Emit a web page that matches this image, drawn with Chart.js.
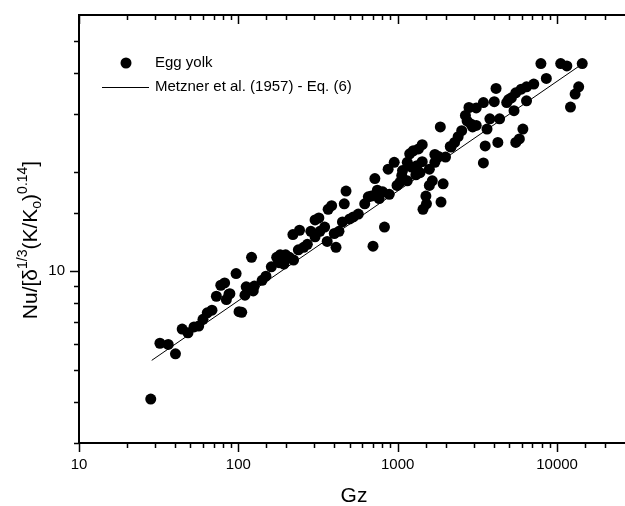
<!DOCTYPE html>
<html>
<head>
<meta charset="utf-8">
<script src="https://cdn.jsdelivr.net/npm/chart.js@4.4.1/dist/chart.umd.min.js"></script>
<style>
  body { margin: 0; background: #fff; }
  #clip { width: 625px; height: 506px; overflow: hidden; }
  #wrap { width: 630px; height: 506px; position: relative; }
</style>
</head>
<body>
<div id="clip"><div id="wrap"><canvas id="nu-chart"></canvas></div></div>
<script>
// Egg yolk data (Gz, Nu/[...])
var eggGz = [28.2, 32.2, 36.3, 40.3, 44.4, 48.3, 52.7, 56.4, 60, 63.8, 68.3, 72.8, 84.1, 88.5, 101, 105, 110, 124,
  77.6, 82, 87.3, 96.8, 112, 121, 126, 141, 149, 161, 174, 183, 198, 180, 193, 209, 222, 238, 220, 242, 257, 271,
  285, 303, 303, 320, 325, 348, 366, 385, 361, 410, 400, 428, 450, 462, 474, 500, 527, 566, 621, 654, 683, 700,
  719, 745, 805, 765, 826, 885, 871, 951, 990, 1032, 1072, 1148, 1148, 1189, 1253, 1221, 1319, 1425, 1300, 1441,
  1515, 1503, 1580, 1648, 1580, 1711, 1803, 1870, 1928, 1996, 3450, 1851, 2137, 2275, 2395, 2521, 2726, 2661,
  2800, 3110, 2875, 3110, 3450, 4036, 3540, 4250, 3635, 3788, 4142, 4359, 4830, 4963, 5171, 5507, 5957, 6433,
  7144, 5370, 5507, 5800, 6104, 6433, 7918, 8564, 10540, 11520, 12140, 12980, 13670, 14390, 1425, 1350, 1711,
  2163, 2950, 1060, 1380];
var eggNu = [4.08, 6.03, 5.98, 5.6, 6.66, 6.49, 6.76, 6.8, 7.13, 7.46, 7.6, 8.38, 8.19, 8.53, 7.52, 7.49, 8.44, 8.7,
  9.05, 9.2, 8.5, 9.82, 8.95, 11.0, 9.0, 9.37, 9.64, 10.3, 11.0, 11.2, 11.2, 10.6, 10.5, 11.0, 10.8, 11.6, 12.9,
  13.3, 11.8, 12.05, 13.2, 12.7, 14.3, 14.5, 13.2, 13.6, 15.4, 15.8, 12.3, 11.8, 13.0, 13.2, 14.1, 16.0, 17.5,
  14.4, 14.6, 14.9, 16.0, 16.8, 16.9, 11.9, 19.1, 17.6, 17.4, 16.6, 13.6, 17.1, 20.4, 21.4, 18.2, 18.6, 20.2,
  21.4, 18.8, 22.7, 23.2, 20.7, 20.9, 21.5, 19.6, 15.4, 16.0, 16.9, 18.2, 18.8, 20.4, 21.4, 22.3, 16.2, 18.4,
  22.2, 21.3, 27.4, 23.9, 24.6, 25.6, 26.7, 28.6, 29.7, 31.4, 31.3, 28.0, 27.7, 32.5, 32.7, 24.0, 24.6, 27.0,
  29.0, 35.9, 29.0, 32.5, 33.2, 33.6, 34.8, 35.7, 36.3, 37.0, 30.7, 24.6, 25.2, 27.0, 32.9, 42.7, 38.5, 42.7,
  42.0, 31.5, 34.5, 36.3, 42.7, 24.2, 23.5, 22.6, 23.8, 27.4, 19.5, 19.9];

// Metzner et al. (1957) - Eq. (6), end points of the drawn line
var lineGz = [28.6, 13700];
var lineNu = [5.35, 41.9];

var xTickLabels = ['10', '100', '1000', '10000'];
var yTickLabels = ['10'];

function isPow10(v) {
  var l = Math.log10(v);
  return Math.abs(l - Math.round(l)) < 1e-9;
}

var eggPoints = eggGz.map(function (g, i) { return { x: g, y: eggNu[i] }; });
var linePoints = lineGz.map(function (g, i) { return { x: g, y: lineNu[i] }; });

var decor = {
  id: 'decor',
  afterDraw: function (chart) {
    var ctx = chart.ctx, a = chart.chartArea;
    var xs = chart.scales.x, ys = chart.scales.y;
    ctx.save();
    ctx.strokeStyle = '#000';
    ctx.fillStyle = '#000';
    // top frame line
    ctx.lineWidth = 2;
    ctx.beginPath(); ctx.moveTo(a.left - 1, a.top); ctx.lineTo(a.right + 5, a.top); ctx.stroke();

    // tick marks
    ctx.lineWidth = 1.5;
    xs.ticks.forEach(function (t) {
      var px = Math.round(xs.getPixelForValue(t.value)) + 0.5;
      if (px > a.right) return;
      var len = isPow10(t.value) ? 9 : 5;
      ctx.beginPath();
      ctx.moveTo(px, a.bottom); ctx.lineTo(px, a.bottom + len);
      ctx.moveTo(px, a.top); ctx.lineTo(px, a.top + len);
      ctx.stroke();
    });
    ys.ticks.forEach(function (t) {
      if (t.value >= ys.max) return;
      var py = Math.round(ys.getPixelForValue(t.value)) + 0.5;
      var len = isPow10(t.value) ? 9 : 5;
      ctx.beginPath();
      ctx.moveTo(a.left - len, py); ctx.lineTo(a.left, py);
      ctx.stroke();
    });

    // legend
    ctx.font = '15px "Liberation Sans", Arial, sans-serif';
    ctx.textBaseline = 'middle';
    ctx.textAlign = 'left';
    ctx.beginPath(); ctx.arc(126, 63, 5.5, 0, Math.PI * 2); ctx.fill();
    ctx.fillText(chart.data.datasets[0].label, 155, 63);
    ctx.lineWidth = 1;
    ctx.beginPath(); ctx.moveTo(102, 87.5); ctx.lineTo(149, 87.5); ctx.stroke();
    ctx.fillText(chart.data.datasets[1].label, 155, 87);

    // x axis title
    ctx.font = '21px "Liberation Sans", Arial, sans-serif';
    ctx.textAlign = 'center';
    ctx.fillText('Gz', 354, 496);

    // y axis title with super/subscripts
    var parts = [
      ['Nu/[\u03b4', 0], ['1/3', 1], ['(K/K', 0], ['o', -1], [')', 0], ['0.14', 1], [']', 0]
    ];
    var mainF = '21px "Liberation Sans", Arial, sans-serif';
    var smallF = '14px "Liberation Sans", Arial, sans-serif';
    var total = 0;
    parts.forEach(function (p) {
      ctx.font = p[1] === 0 ? mainF : smallF;
      p.push(ctx.measureText(p[0]).width);
      total += p[2];
    });
    ctx.translate(37, 240);
    ctx.rotate(-Math.PI / 2);
    ctx.textAlign = 'left';
    ctx.textBaseline = 'alphabetic';
    var cx = -total / 2;
    parts.forEach(function (p) {
      ctx.font = p[1] === 0 ? mainF : smallF;
      var dy = p[1] === 1 ? -10 : (p[1] === -1 ? 4 : 0);
      ctx.fillText(p[0], cx, dy);
      cx += p[2];
    });
    ctx.restore();
  }
};

var ctxChart = document.getElementById('nu-chart');
new Chart(ctxChart, {
  type: 'scatter',
  data: {
    datasets: [{
      label: 'Egg yolk',
      data: eggPoints,
      pointRadius: 5.5,
      pointBackgroundColor: '#000',
      pointBorderWidth: 0,
      showLine: false
    }, {
      label: 'Metzner et al. (1957) - Eq. (6)',
      data: linePoints,
      showLine: true,
      borderColor: '#000',
      borderWidth: 1,
      pointRadius: 0
    }]
  },
  options: {
    responsive: true,
    maintainAspectRatio: false,
    animation: false,
    events: [],
    layout: { padding: { top: 15, right: 0, left: 0, bottom: 0 } },
    plugins: {
      legend: { display: false },
      tooltip: { enabled: false }
    },
    scales: {
      x: {
        type: 'logarithmic',
        min: 10,
        max: 26500,
        grid: { display: false, drawTicks: false },
        border: { display: true, color: '#000', width: 2 },
        ticks: {
          autoSkip: false,
          maxRotation: 0,
          padding: 13,
          color: '#000',
          font: { family: '"Liberation Sans", Arial, sans-serif', size: 15 },
          callback: function (v) {
            var s = String(Math.round(v));
            return isPow10(v) && xTickLabels.indexOf(s) >= 0 ? s : '';
          }
        },
        afterFit: function (scale) {
          scale.height = 63;
          scale.paddingLeft = 0;
          scale.paddingRight = 0;
        }
      },
      y: {
        type: 'logarithmic',
        min: 3,
        max: 60,
        grid: { display: false, drawTicks: false },
        border: { display: true, color: '#000', width: 2 },
        ticks: {
          autoSkip: false,
          padding: 14,
          color: '#000',
          font: { family: '"Liberation Sans", Arial, sans-serif', size: 15 },
          callback: function (v) {
            var s = String(Math.round(v));
            return isPow10(v) && yTickLabels.indexOf(s) >= 0 ? s : '';
          }
        },
        afterFit: function (scale) {
          scale.width = 79;
          scale.paddingTop = 0;
          scale.paddingBottom = 0;
        }
      }
    }
  },
  plugins: [decor]
});
</script>
</body>
</html>
